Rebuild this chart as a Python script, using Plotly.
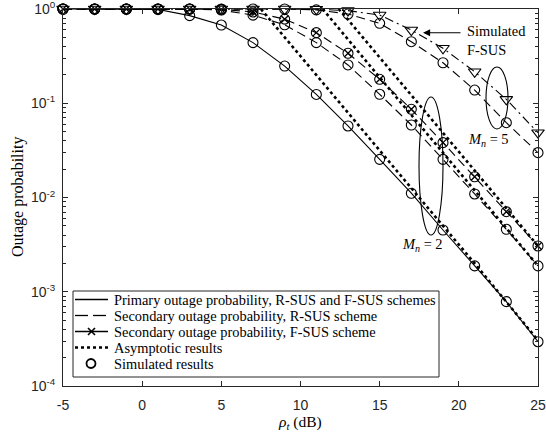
import plotly.graph_objects as go

# ---------------- data ----------------
rho_db = [-5, -3, -1, 1, 3, 5, 7, 9, 11, 13, 15, 17, 19, 21, 23, 25]

primary = [1.0, 1.0, 1.0, 0.99, 0.85, 0.676, 0.44, 0.248, 0.124, 0.0574,
           0.0254, 0.0111, 0.00452, 0.00188, 0.000785, 0.000295]

sec_rsus_m2 = [1.0, 1.0, 1.0, 1.0, 1.0, 0.975, 0.86, 0.68, 0.44, 0.255,
               0.1245, 0.0588, 0.0254, 0.0109, 0.0046, 0.00188]
sec_fsus_m2 = [1.0, 1.0, 1.0, 1.0, 1.0, 0.99, 0.93, 0.78, 0.561, 0.339,
               0.1795, 0.0863, 0.0382, 0.0166, 0.00707, 0.00306]

sec_rsus_m5 = [1.0, 1.0, 1.0, 1.0, 1.0, 1.0, 1.0, 1.0, 0.98, 0.885,
               0.705, 0.45, 0.269, 0.138, 0.0622, 0.0299]
sec_fsus_m5 = [1.0, 1.0, 1.0, 1.0, 1.0, 1.0, 1.0, 1.0, 0.995, 0.96,
               0.863, 0.598, 0.383, 0.216, 0.110, 0.0487]

# asymptotic results (high-SNR approximations)
asym_prim_x = [7.5, 9, 11, 13, 15, 17, 19, 21, 23, 25]
asym_prim_y = [1.0, 0.50, 0.20, 0.079, 0.031, 0.0126, 0.0050, 0.0020, 0.00079, 0.000305]

asym_fsus_x = [12.4, 13, 15, 17, 19, 21, 23, 25]
asym_fsus_y = [1.0, 0.77, 0.306, 0.122, 0.0485, 0.0193, 0.00768, 0.00306]

asym_rsus_x = [11.4, 13, 15, 17, 19, 21, 23, 25]
asym_rsus_y = [1.0, 0.47, 0.188, 0.075, 0.0298, 0.0119, 0.00472, 0.00188]

x_ticks = [-5, 0, 5, 10, 15, 20, 25]
y_ticks = [1e-4, 1e-3, 1e-2, 1e-1, 1e0]
y_ticktext = ["10<sup>-4</sup>", "10<sup>-3</sup>", "10<sup>-2</sup>", "10<sup>-1</sup>", "10<sup>0</sup>"]
y_minor = [m * 10.0 ** k for k in range(-4, 0) for m in range(2, 10)]

legend_labels = [
    "Primary outage probability, R-SUS and F-SUS schemes",
    "Secondary outage probability, R-SUS scheme",
    "Secondary outage probability, F-SUS scheme",
    "Asymptotic results",
    "Simulated results",
]

# ---------------- styles ----------------
BLACK = "#000000"
AX = "#262626"
SERIF = "Liberation Serif, Times New Roman, serif"
SANS = "Liberation Sans, Arial, sans-serif"
DASH = "9px,5px"
DASHDOT = "9px,4px,2px,4px"
DOTW = 2.6

fig = go.Figure()

def line_trace(x, y, dash, width=1.1, symbol=None, msize=10):
    mode = "lines+markers" if symbol else "lines"
    kw = {}
    if symbol:
        kw["marker"] = dict(symbol=symbol, size=msize, color=BLACK,
                            line=dict(color=BLACK, width=1.1))
    fig.add_trace(go.Scatter(x=x, y=y, mode=mode,
                             line=dict(color=BLACK, width=width, dash=dash),
                             showlegend=False, cliponaxis=False, hoverinfo="skip", **kw))

# asymptotic (dotted, thick)
line_trace(asym_prim_x, asym_prim_y, "dot", width=DOTW)
line_trace(asym_fsus_x, asym_fsus_y, "dot", width=DOTW)
line_trace(asym_rsus_x, asym_rsus_y, "dot", width=DOTW)

# primary
line_trace(rho_db, primary, "solid", symbol="circle-open")
# secondary Mn = 2
line_trace(rho_db, sec_rsus_m2, DASH, symbol="circle-open")
line_trace(rho_db, sec_fsus_m2, DASH, symbol="circle-open")
fig.add_trace(go.Scatter(x=rho_db, y=sec_fsus_m2, mode="markers",
                         marker=dict(symbol="x-thin-open", size=7, color=BLACK,
                                     line=dict(color=BLACK, width=1.3)),
                         showlegend=False, cliponaxis=False, hoverinfo="skip"))
# secondary Mn = 5
line_trace(rho_db, sec_rsus_m5, DASH, symbol="circle-open")
line_trace(rho_db, sec_fsus_m5, DASHDOT, symbol="triangle-down-open", msize=11)

# ---------------- layout ----------------
L, R, T, B = 63, 8, 9, 53
W, H = 546, 439
PW, PH = W - L - R, H - T - B

def px(xp):
    return (xp - L) / PW

def py(yp):
    return (T + PH - yp) / PH

fig.update_layout(
    width=W, height=H,
    margin=dict(l=L, r=R, t=T, b=B, pad=0, autoexpand=False),
    paper_bgcolor="white", plot_bgcolor="white",
    showlegend=False,
    xaxis=dict(range=[-5, 25], tickvals=x_ticks, ticktext=[str(v) for v in x_ticks],
               ticks="inside", ticklen=5, tickcolor=AX, tickwidth=1,
               showline=True, linecolor=AX, linewidth=1, mirror="ticks",
               showgrid=False, zeroline=False, automargin=False,
               ticklabeloverflow="allow",
               tickfont=dict(family=SANS, size=14, color=AX), ticklabelstandoff=6),
    yaxis=dict(type="log", range=[-4, 0], tickvals=y_ticks, ticktext=y_ticktext,
               ticks="inside", ticklen=5, tickcolor=AX, tickwidth=1,
               showline=True, linecolor=AX, linewidth=1, mirror="ticks",
               showgrid=False, zeroline=False, automargin=False,
               ticklabeloverflow="allow",
               minor=dict(tickvals=y_minor, ticks="inside", ticklen=3, tickcolor=AX),
               tickfont=dict(family=SANS, size=14, color=AX), ticklabelstandoff=4),
)

# ---------------- manual legend (box, samples, real text) ----------------
LX0, LX1, LY0, LY1 = 73, 439, 291, 377
row_y = [299.5, 315.5, 331.5, 347.5, 363.5]
S0, S1, TX = 75, 108, 112

fig.add_shape(type="rect", xref="paper", yref="paper",
              x0=px(LX0), x1=px(LX1), y0=py(LY1), y1=py(LY0),
              line=dict(color=AX, width=1), fillcolor="white", layer="above")

def seg(x0, x1, y0, y1=None, dash="solid", width=1.3):
    if y1 is None:
        y1 = y0
    fig.add_shape(type="line", xref="paper", yref="paper",
                  x0=px(x0), x1=px(x1), y0=py(y0), y1=py(y1),
                  line=dict(color=BLACK, width=width, dash=dash), layer="above")

seg(S0, S1, row_y[0])
seg(S0, 88, row_y[1]); seg(93, 106, row_y[1])
seg(S0, S1, row_y[2])
seg(88, 95, row_y[2] - 3.5, row_y[2] + 3.5, width=1.6)
seg(88, 95, row_y[2] + 3.5, row_y[2] - 3.5, width=1.6)
seg(S0, 110, row_y[3], dash="dot", width=DOTW)
fig.add_shape(type="circle", xref="paper", yref="paper",
              x0=px(86.5), x1=px(95.5), y0=py(row_y[4] + 4.5), y1=py(row_y[4] - 4.5),
              line=dict(color=BLACK, width=1.8), layer="above")

for lab, ry in zip(legend_labels, row_y):
    fig.add_annotation(text=lab, xref="paper", yref="paper", x=px(TX), y=py(ry),
                       xanchor="left", yanchor="middle", showarrow=False,
                       font=dict(family=SERIF, size=14.4, color=BLACK))

# axis titles
fig.add_annotation(text="<i>ρ</i><sub><i>t</i></sub> (dB)", xref="paper", yref="paper",
                   x=px(300), y=py(422), xanchor="center", yanchor="middle", showarrow=False,
                   font=dict(family=SERIF, size=15.5, color=BLACK))
fig.add_annotation(text="Outage probability", xref="paper", yref="paper",
                   x=px(18), y=py(197), xanchor="center", yanchor="middle",
                   textangle=-90, showarrow=False,
                   font=dict(family=SERIF, size=16, color=BLACK))

# ellipses
fig.add_shape(type="circle", xref="paper", yref="paper",
              x0=px(419), x1=px(443), y0=py(235), y1=py(97),
              line=dict(color=BLACK, width=1.1))
fig.add_shape(type="circle", xref="paper", yref="paper",
              x0=px(486), x1=px(508), y0=py(129), y1=py(67),
              line=dict(color=BLACK, width=1.1))

# annotations
fig.add_annotation(text="<i>M</i><sub><i>n</i></sub> = 5", xref="paper", yref="paper",
                   x=px(488), y=py(140), xanchor="center", yanchor="middle", showarrow=False,
                   font=dict(family=SERIF, size=14.4, color=BLACK))
fig.add_annotation(text="<i>M</i><sub><i>n</i></sub> = 2", xref="paper", yref="paper",
                   x=px(422), y=py(245), xanchor="center", yanchor="middle", showarrow=False,
                   font=dict(family=SERIF, size=14.4, color=BLACK))
fig.add_annotation(text="Simulated<br>F-SUS", xref="paper", yref="paper",
                   x=px(465), y=py(41), xanchor="left", yanchor="middle", align="left",
                   showarrow=False, font=dict(family=SERIF, size=14.4, color=BLACK))
fig.add_annotation(text="", xref="paper", yref="paper",
                   x=px(423), y=py(32.7), ax=39, ay=0, showarrow=True,
                   arrowhead=2, arrowsize=1.3, arrowwidth=1.1, arrowcolor=BLACK,
                   standoff=0, startstandoff=0)

fig.write_html("out.html",
               config={"displayModeBar": False},
               post_script="document.body.style.margin='0';document.body.style.padding='0';")
